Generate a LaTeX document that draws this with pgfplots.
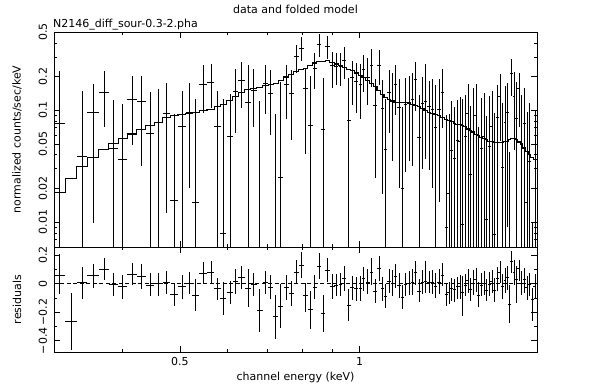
\documentclass[border=0pt]{standalone}
\usepackage{fontspec}
\setmainfont{DejaVu Sans}
\usepackage{pgfplots}
\usepackage{pgfplotstable}
\pgfplotsset{compat=1.18}
\pgfplotstableread{
E xr m r rp rm d dp dm
0.3144 0.0212 0.0183 0.058 0.147 0.132 0.0763 0.147 0.0733
0.3284 0.0225 0.0244 -0.262 0.199 0.200 0.002 0.001 0.001
0.3428 0.0204 0.0314 0.007 0.111 0.112 0.0384 0.111 0.0354
0.3579 0.0225 0.0379 0.058 0.077 0.086 0.0959 0.077 0.086
0.3731 0.0193 0.0442 0.100 0.081 0.074 0.1442 0.081 0.074
0.3872 0.0179 0.0508 -0.005 0.077 0.085 0.0458 0.077 0.0428
0.4012 0.0173 0.0563 -0.020 0.078 0.085 0.0363 0.078 0.0333
0.4161 0.0193 0.0614 0.063 0.079 0.075 0.1244 0.079 0.075
0.4311 0.0162 0.0667 0.053 0.082 0.088 0.1197 0.082 0.088
0.4454 0.0166 0.0724 -0.010 0.082 0.080 0.0624 0.082 0.0594
0.4603 0.0162 0.0781 0.000 0.077 0.086 0.0781 0.077 0.0751
0.4744 0.0141 0.0860 0.007 0.081 0.081 0.0930 0.081 0.081
0.4889 0.0160 0.0897 -0.074 0.076 0.082 0.0157 0.076 0.0127
0.5042 0.0148 0.0920 -0.020 0.078 0.085 0.0720 0.078 0.069
0.5182 0.0131 0.094 0.002 0.079 0.076 0.096 0.079 0.076
0.5312 0.0135 0.096 -0.081 0.111 0.109 0.015 0.111 0.012
0.5469 0.0146 0.099 0.072 0.081 0.077 0.171 0.081 0.077
0.5634 0.0139 0.102 0.077 0.081 0.075 0.179 0.081 0.075
0.5781 0.0119 0.107 -0.035 0.077 0.081 0.072 0.077 0.069
0.5907 0.0119 0.113 -0.105 0.117 0.113 0.008 0.117 0.005
0.6062 0.0119 0.122 -0.063 0.082 0.081 0.059 0.082 0.056
0.6196 0.0112 0.133 0.014 0.086 0.084 0.147 0.086 0.084
0.6341 0.0121 0.144 0.042 0.081 0.082 0.186 0.081 0.082
0.6504 0.0119 0.153 -0.035 0.135 0.132 0.118 0.135 0.115
0.6648 0.0112 0.157 -0.005 0.082 0.081 0.152 0.082 0.081
0.6804 0.0116 0.161 -0.190 0.150 0.150 0.002 0.119 0.001
0.6963 0.0104 0.166 0.007 0.081 0.081 0.173 0.081 0.081
0.7090 0.0096 0.169 -0.028 0.086 0.081 0.141 0.086 0.081
0.7236 0.0100 0.174 -0.232 0.151 0.156 0.002 0.091 0.001
0.7377 0.0104 0.185 -0.160 0.155 0.154 0.025 0.155 0.022
0.7541 0.0104 0.198 -0.028 0.086 0.086 0.170 0.086 0.086
0.7687 0.0096 0.210 -0.067 0.086 0.089 0.143 0.086 0.089
0.7837 0.0096 0.221 0.081 0.084 0.086 0.302 0.084 0.086
0.7989 0.0087 0.231 0.130 0.090 0.088 0.361 0.090 0.088
0.8113 0.0087 0.238 -0.081 0.083 0.116 0.157 0.083 0.116
0.8271 0.0089 0.253 -0.179 0.128 0.139 0.074 0.128 0.071
0.8409 0.0083 0.264 -0.028 0.086 0.081 0.236 0.086 0.081
0.8549 0.0081 0.271 0.118 0.094 0.088 0.389 0.094 0.088
0.8682 0.0081 0.275 -0.207 0.126 0.134 0.068 0.126 0.065
0.8830 0.0090 0.277 0.095 0.086 0.083 0.372 0.086 0.083
0.9002 0.0087 0.267 -0.016 0.081 0.093 0.251 0.081 0.093
0.9142 0.0077 0.259 -0.012 0.077 0.078 0.247 0.077 0.078
0.9284 0.0073 0.250 -0.005 0.082 0.081 0.245 0.082 0.081
0.9413 0.0081 0.242 0.037 0.086 0.088 0.279 0.086 0.088
0.9585 0.0081 0.233 -0.151 0.111 0.109 0.082 0.111 0.079
0.9723 0.0073 0.225 -0.028 0.081 0.086 0.197 0.081 0.086
0.9874 0.0077 0.215 -0.035 0.084 0.086 0.180 0.084 0.086
1.0027 0.0069 0.205 -0.035 0.088 0.086 0.170 0.088 0.086
1.0155 0.0069 0.196 0.035 0.083 0.086 0.231 0.083 0.086
1.0313 0.0073 0.186 0.012 0.093 0.086 0.198 0.093 0.086
1.0461 0.0069 0.174 0.077 0.104 0.089 0.251 0.104 0.089
1.0607 0.0073 0.162 -0.051 0.081 0.086 0.111 0.081 0.086
1.0772 0.0071 0.149 0.105 0.088 0.086 0.254 0.088 0.086
1.0914 0.0065 0.139 -0.035 0.084 0.086 0.104 0.084 0.086
1.1053 0.0064 0.131 -0.086 0.081 0.088 0.045 0.081 0.042
1.1195 0.0064 0.125 0.019 0.086 0.082 0.144 0.086 0.082
1.1342 0.0064 0.121 0.002 0.093 0.088 0.123 0.093 0.088
1.1487 0.0064 0.118 0.053 0.082 0.081 0.171 0.082 0.081
1.1634 0.0064 0.118 -0.012 0.084 0.086 0.106 0.084 0.086
1.1787 0.0064 0.118 -0.098 0.086 0.081 0.020 0.086 0.017
1.1938 0.0064 0.118 -0.005 0.082 0.085 0.113 0.082 0.085
1.2091 0.0064 0.116 0.002 0.086 0.083 0.118 0.086 0.083
1.2250 0.0064 0.113 0.012 0.088 0.093 0.125 0.088 0.093
1.2407 0.0064 0.111 0.077 0.081 0.089 0.188 0.081 0.089
1.2565 0.0064 0.108 -0.051 0.081 0.081 0.057 0.081 0.054
1.2731 0.0064 0.104 0.012 0.083 0.086 0.116 0.083 0.086
1.2894 0.0064 0.100 0.019 0.139 0.082 0.119 0.139 0.082
1.3058 0.0064 0.096 0.012 0.076 0.079 0.108 0.076 0.079
1.3231 0.0064 0.094 0.007 0.088 0.081 0.101 0.088 0.081
1.3400 0.0064 0.091 -0.020 0.097 0.078 0.071 0.097 0.068
1.3571 0.0064 0.089 0.012 0.088 0.086 0.101 0.088 0.086
1.3750 0.0064 0.086 0.058 0.088 0.074 0.144 0.088 0.074
1.3963 0.0054 0.083 -0.074 0.081 0.082 0.009 0.081 0.006
1.4104 0.0054 0.081 -0.063 0.075 0.081 0.018 0.075 0.015
1.4251 0.0054 0.079 -0.035 0.077 0.086 0.044 0.077 0.041
1.4417 0.0054 0.0765 -0.039 0.069 0.089 0.0375 0.069 0.0345
1.4568 0.0054 0.075 -0.021 0.070 0.084 0.054 0.070 0.051
1.4714 0.0054 0.074 -0.021 0.079 0.088 0.053 0.079 0.050
1.4868 0.0054 0.0725 -0.063 0.116 0.167 0.0095 0.116 0.0065
1.5023 0.0054 0.071 -0.012 0.077 0.074 0.059 0.077 0.056
1.5174 0.0054 0.068 0.026 0.079 0.089 0.094 0.079 0.089
1.5333 0.0054 0.066 -0.039 0.081 0.082 0.027 0.081 0.024
1.5493 0.0054 0.063 0.002 0.093 0.083 0.065 0.093 0.062
1.5649 0.0054 0.061 0.030 0.082 0.088 0.091 0.082 0.088
1.5813 0.0054 0.059 -0.081 0.093 0.086 0.002 0.069 0.001
1.5978 0.0054 0.0575 -0.012 0.084 0.074 0.0455 0.084 0.0425
1.6139 0.0054 0.056 0.002 0.086 0.083 0.058 0.086 0.055
1.6308 0.0054 0.0545 -0.044 0.079 0.077 0.0105 0.079 0.0075
1.6478 0.0054 0.053 -0.005 0.086 0.081 0.048 0.086 0.045
1.6644 0.0054 0.0522 0.019 0.076 0.082 0.0712 0.076 0.0682
1.6818 0.0054 0.0518 -0.044 0.086 0.084 0.0078 0.086 0.0048
1.6994 0.0054 0.0516 0.035 0.083 0.086 0.0866 0.083 0.0836
1.7165 0.0054 0.0515 0.081 0.077 0.079 0.1325 0.077 0.079
1.7344 0.0054 0.0518 -0.021 0.086 0.088 0.0308 0.086 0.0278
1.7512 0.0054 0.0524 0.026 0.086 0.089 0.0784 0.086 0.0754
1.7668 0.0054 0.053 0.042 0.081 0.086 0.095 0.081 0.086
1.7818 0.0054 0.0545 -0.144 0.132 0.133 0.002 0.0405 0.001
1.7970 0.0054 0.056 0.158 0.070 0.081 0.214 0.070 0.081
1.8123 0.0054 0.0562 0.077 0.088 0.089 0.133 0.088 0.089
1.8284 0.0054 0.0545 0.030 0.093 0.167 0.0845 0.093 0.0815
1.8468 0.0054 0.052 0.105 0.060 0.086 0.157 0.060 0.086
1.8661 0.0054 0.049 0.002 0.086 0.083 0.051 0.086 0.048
1.8856 0.0054 0.046 0.030 0.082 0.093 0.076 0.082 0.073
1.9046 0.0054 0.043 -0.028 0.081 0.086 0.015 0.081 0.012
1.9245 0.0054 0.040 -0.005 0.082 0.081 0.035 0.082 0.032
1.9446 0.0054 0.038 -0.109 0.081 0.151 0.002 0.008 0.001
1.9642 0.0054 0.036 -0.016 0.081 0.082 0.020 0.081 0.017
}\spec

\pgfplotsset{
  /pgfplots/common/.style={
    scale only axis, width=483bp,
    xmin=0.3078, xmax=1.981,
    xtick={0.5,1}, minor xtick={0.3,0.4,0.6,0.7,0.8,0.9,2},
    tick align=inside, xtick pos=both, ytick pos=both,
    major tick length=6bp, minor tick length=3bp,
    every tick/.style={black, line width=0.6bp},
    axis line style={line width=0.8bp},
    tick label style={font=\fontsize{11bp}{13bp}\selectfont},
    label style={font=\fontsize{11bp}{13bp}\selectfont},
    yticklabel style={rotate=90, anchor=south},
    yticklabel shift=3.5bp,
    ylabel style={at={(axis description cs:-0.0766,0.5)}, anchor=center},
  },
  /pgfplots/errs/.style={only marks, mark=none, mark size=0pt, black,
    error bars/.cd, x dir=both, x explicit relative, y dir=both, y explicit,
    error mark=none, error bar style={line width=0.6bp, black}},
}

\begin{document}
\begin{tikzpicture}
\begin{axis}[xmode=log, ymode=log, common, at={(54bp,143bp)}, anchor=south west, height=215bp,
  ymin=0.006, ymax=0.5,
  ytick={0.01,0.02,0.05,0.1,0.2,0.5},
  yticklabels={0.01,0.02,0.05,0.1,0.2,0.5},
  minor ytick={0.006,0.007,0.008,0.009,0.03,0.04,0.06,0.07,0.08,0.09,0.3,0.4},
  xticklabels={},
  ylabel={normalized counts/sec/keV},
  title={data and folded model},
  every axis title shift=0pt,
  title style={at={(axis description cs:0.5,1.107)}, anchor=center, font=\fontsize{11bp}{13bp}\selectfont},
]
\addplot[const plot mark mid, black, line width=1.1bp] table[x=E, y=m] {\spec};
\addplot[black, line width=1.1bp] coordinates {(0.3078,0.0183) (0.3144,0.0183)};
\addplot[black, line width=1.1bp] coordinates {(1.9642,0.036) (1.981,0.036)};
\addplot[errs] table[x=E, y=d, x error=xr, y error plus=dp, y error minus=dm] {\spec};
\end{axis}
\begin{axis}[xmode=log, common, at={(54bp,38bp)}, anchor=south west, height=105bp,
  ymin=-0.479, ymax=0.256,
  ytick={-0.4,-0.2,0,0.2},
  yticklabels={−0.4,−0.2,0,0.2},
  minor ytick={-0.3,-0.1,0.1},
  xticklabels={0.5,1},
  xticklabel style={yshift=-2bp},
  xlabel={channel energy (keV)},
  xlabel style={at={(axis description cs:0.5,-0.238)}, anchor=center},
  ylabel={residuals},
]
\addplot[black, line width=0.6bp, dash pattern=on 4bp off 2.5bp] coordinates {(0.3078,0) (1.981,0)};
\addplot[errs] table[x=E, y=r, x error=xr, y error plus=rp, y error minus=rm] {\spec};
\end{axis}
\node[anchor=west, font=\fontsize{11bp}{13bp}\selectfont, inner sep=0pt] at (53bp,365.5bp) {N2146\_diff\_sour-0.3-2.pha};
\pgfresetboundingbox
\path[use as bounding box] (0,0) rectangle (612bp,390bp);
\end{tikzpicture}
\end{document}
